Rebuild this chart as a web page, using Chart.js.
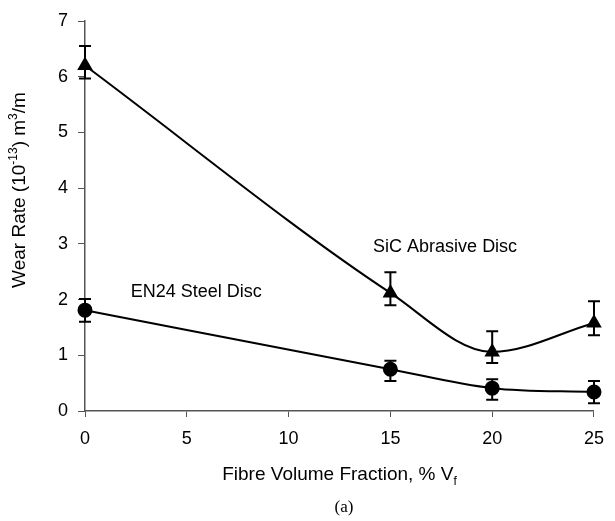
<!DOCTYPE html>
<html>
<head>
<meta charset="utf-8">
<script src="https://cdn.jsdelivr.net/npm/chart.js@4"></script>
<style>
  html, body { margin: 0; padding: 0; background: #fff; }
  #wrap { width: 615px; height: 521px; }
</style>
</head>
<body>
<div id="wrap"><canvas id="wearChart" width="615" height="521"></canvas></div>
<script>
// fibre content, % Vf
const fibre = [0, 15, 20, 25];

// wear rate against the SiC abrasive disc
const sicWear = [6.2, 2.12, 1.06, 1.58];
const sicHigh = [6.55, 2.49, 1.43, 1.97];
const sicLow = [5.97, 1.9, 0.86, 1.36];

// wear rate against the EN24 steel disc
const steelWear = [1.81, 0.75, 0.41, 0.34];
const steelHigh = [2.01, 0.9, 0.57, 0.54];
const steelLow = [1.6, 0.54, 0.2, 0.14];

const yTicks = [0, 1, 2, 3, 4, 5, 6, 7];
const xTicks = [0, 5, 10, 15, 20, 25];

const FONT = "'Liberation Sans', Arial, sans-serif";

function toPoints(values) {
    return fibre.map((f, i) => ({ x: f, y: values[i] }));
}

// draws the scatter bars for each series
const errorBars = {
    id: "errorBars",
    afterDatasetsDraw(chart) {
        const ctx = chart.ctx;
        const xs = chart.scales.x;
        const ys = chart.scales.y;
        const sets = [[sicHigh, sicLow], [steelHigh, steelLow]];
        ctx.save();
        ctx.strokeStyle = "#000";
        ctx.lineWidth = 2;
        sets.forEach(([hi, lo]) => {
            fibre.forEach((f, i) => {
                const px = xs.getPixelForValue(f);
                const top = ys.getPixelForValue(hi[i]);
                const bot = ys.getPixelForValue(lo[i]);
                ctx.beginPath();
                ctx.moveTo(px, top);
                ctx.lineTo(px, bot);
                ctx.moveTo(px - 6, top);
                ctx.lineTo(px + 6, top);
                ctx.moveTo(px - 6, bot);
                ctx.lineTo(px + 6, bot);
                ctx.stroke();
            });
        });
        ctx.restore();
    }
};

// axis titles, series names and the panel letter
const textLabels = {
    id: "textLabels",
    afterDraw(chart) {
        const ctx = chart.ctx;
        const xs = chart.scales.x;
        const ys = chart.scales.y;
        ctx.save();
        ctx.fillStyle = "#000";
        ctx.textBaseline = "middle";

        ctx.font = "18px " + FONT;
        ctx.textAlign = "left";
        ctx.fillText("SiC Abrasive Disc", xs.getPixelForValue(14.15), ys.getPixelForValue(2.94));
        ctx.fillText("EN24 Steel Disc", xs.getPixelForValue(2.25), ys.getPixelForValue(2.13));

        // x title with subscript f
        const big = "19px " + FONT;
        const small = "12px " + FONT;
        const main = "Fibre Volume Fraction, % V";
        ctx.font = big;
        const w1 = ctx.measureText(main).width;
        ctx.font = small;
        const w2 = ctx.measureText("f").width;
        let x0 = (chart.chartArea.left + chart.chartArea.right) / 2 - (w1 + w2) / 2;
        ctx.font = big;
        ctx.fillText(main, x0, 475);
        ctx.font = small;
        ctx.fillText("f", x0 + w1, 482);

        // y title with superscripts
        ctx.translate(20, 190);
        ctx.rotate(-Math.PI / 2);
        const parts = [
            ["Wear Rate (10", big, 0],
            ["-13", small, -6],
            [") m", big, 0],
            ["3", small, -6],
            ["/m", big, 0]
        ];
        let total = 0;
        parts.forEach(p => { ctx.font = p[1]; total += ctx.measureText(p[0]).width; });
        let cx = -total / 2;
        parts.forEach(p => {
            ctx.font = p[1];
            ctx.fillText(p[0], cx, p[2]);
            cx += ctx.measureText(p[0]).width;
        });
        ctx.setTransform(1, 0, 0, 1, 0, 0);

        ctx.font = "17px 'Liberation Serif', 'Times New Roman', serif";
        ctx.textAlign = "center";
        ctx.fillText("(a)", 344, 508);
        ctx.restore();
    }
};

new Chart(document.getElementById("wearChart"), {
    type: "line",
    data: {
        datasets: [
            {
                label: "SiC Abrasive Disc",
                data: toPoints(sicWear),
                borderColor: "#000",
                backgroundColor: "#000",
                borderWidth: 2,
                pointStyle: "triangle",
                pointRadius: 7,
                cubicInterpolationMode: "monotone",
                clip: false
            },
            {
                label: "EN24 Steel Disc",
                data: toPoints(steelWear),
                borderColor: "#000",
                backgroundColor: "#000",
                borderWidth: 2,
                pointStyle: "circle",
                pointRadius: 6.5,
                cubicInterpolationMode: "monotone",
                clip: false
            }
        ]
    },
    options: {
        responsive: false,
        animation: false,
        layout: { padding: { top: 21, right: 12, left: 0, bottom: 0 } },
        plugins: {
            legend: { display: false },
            tooltip: { enabled: false }
        },
        scales: {
            x: {
                type: "linear",
                min: 0,
                max: 25,
                afterBuildTicks: s => { s.ticks = xTicks.map(v => ({ value: v })); },
                afterFit: s => { s.height = 110; },
                border: { color: "#555", width: 1.5 },
                grid: { drawOnChartArea: false, drawTicks: true, tickLength: 6, color: "#555" },
                ticks: { color: "#000", font: { family: FONT, size: 18 }, padding: 11 }
            },
            y: {
                min: 0,
                max: 7,
                afterBuildTicks: s => { s.ticks = yTicks.map(v => ({ value: v })); },
                afterFit: s => { s.width = 85; },
                border: { color: "#555", width: 1.5 },
                grid: { drawOnChartArea: false, drawTicks: true, tickLength: 7, color: "#555" },
                ticks: { color: "#000", font: { family: FONT, size: 18 }, padding: 10 }
            }
        }
    },
    plugins: [errorBars, textLabels]
});
</script>
</body>
</html>
